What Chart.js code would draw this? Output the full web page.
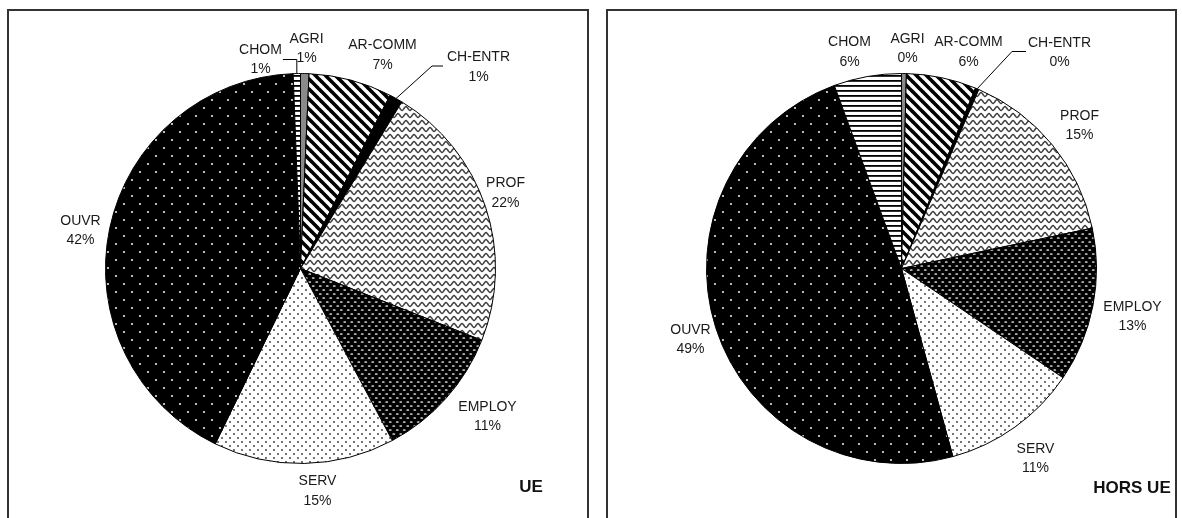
<!DOCTYPE html>
<html>
<head>
<meta charset="UTF-8">
<title>UE / HORS UE</title>
<script src="https://cdn.jsdelivr.net/npm/chart.js@4.4.1/dist/chart.umd.min.js"></script>
<style>
body{margin:0;background:#fff;width:1182px;height:518px;overflow:hidden;position:relative;font-family:"Liberation Sans",Arial,sans-serif;}
.frame{position:absolute;border:2px solid #333;border-bottom:none;box-sizing:border-box;}
#frameUE{left:7px;top:9px;width:582px;height:520px;}
#frameHors{left:606px;top:9px;width:571px;height:520px;}
canvas{position:absolute;top:0;}
#chartUE{left:0;}
#chartHors{left:591px;}
.title{position:absolute;font:bold 17px "Liberation Sans",Arial,sans-serif;line-height:20px;color:#111;text-align:center;}
</style>
</head>
<body>
<div class="frame" id="frameUE"></div>
<div class="frame" id="frameHors"></div>
<canvas id="chartUE" width="591" height="518"></canvas>
<canvas id="chartHors" width="591" height="518"></canvas>
<div class="title" id="titleUE" style="left:501px;top:477px;width:60px;"></div>
<div class="title" id="titleHors" style="left:1082px;top:478px;width:100px;"></div>
<script>
// categories, in clockwise order from 12 o'clock
const categories=['AGRI','AR-COMM','CH-ENTR','PROF','EMPLOY','SERV','OUVR','CHOM'];
// shares in % (labels are rounded)
const valuesUE=[0.7,6.9,1.1,22.3,11.2,15.0,42.2,0.6];
const valuesHorsUE=[0.4,5.8,0.3,15.2,12.8,11.3,48.7,5.6];
const titles=['UE','HORS UE'];

titleUE.textContent=titles[0];
titleHors.textContent=titles[1];

// black & white fill patterns, one per category
function tile(ctx,w,h,draw){
    const c=document.createElement('canvas');
    c.width=w;c.height=h;
    const g=c.getContext('2d');
    draw(g,w,h);
    return ctx.createPattern(c,'repeat');
}
function makeFills(ctx){
    const arcomm=tile(ctx,10,10,(g,w,h)=>{
        g.fillStyle='#fff';g.fillRect(0,0,w,h);
        g.strokeStyle='#000';g.lineWidth=3.6;
        for(const k of [-10,0,10]){
            g.beginPath();g.moveTo(k-2,-2);g.lineTo(k+12,12);g.stroke();
        }
    });
    const prof=tile(ctx,8,7,(g,w,h)=>{
        g.fillStyle='#fff';g.fillRect(0,0,w,h);
        g.strokeStyle='#444';g.lineWidth=1.5;
        g.beginPath();
        for(let x=-1;x<=9;x+=0.5){
            const y=3.5+1.9*Math.sin(2*Math.PI*x/8);
            if(x==-1)g.moveTo(x,y);else g.lineTo(x,y);
        }
        g.stroke();
    });
    const employ=tile(ctx,7,8,(g,w,h)=>{
        g.fillStyle='#000';g.fillRect(0,0,w,h);
        g.fillStyle='#e0e0e0';
        for(const [x,y] of [[1.75,2],[5.25,6],[-1.75,6],[8.75,6]]){
            g.beginPath();g.ellipse(x,y,1.5,0.85,0,0,2*Math.PI);g.fill();
        }
    });
    const serv=tile(ctx,8,8,(g,w,h)=>{
        g.fillStyle='#fff';g.fillRect(0,0,w,h);
        g.fillStyle='#333';
        for(const [x,y] of [[2,2],[6,6]]){
            g.beginPath();g.arc(x,y,0.9,0,2*Math.PI);g.fill();
        }
    });
    const ouvr=tile(ctx,16,16,(g,w,h)=>{
        g.fillStyle='#000';g.fillRect(0,0,w,h);
        g.fillStyle='#e6e6e6';
        for(const [x,y] of [[4,4],[12,12]]){
            g.beginPath();g.arc(x,y,1.1,0,2*Math.PI);g.fill();
        }
    });
    const chom=tile(ctx,6,5,(g,w,h)=>{
        g.fillStyle='#fff';g.fillRect(0,0,w,h);
        g.fillStyle='#000';g.fillRect(0,0,w,1.8);
    });
    return ['#8a8a8a',arcomm,'#000',prof,employ,serv,ouvr,chom];
}

// name + percentage labels, with the leader lines Excel draws for the thin slices
const sliceLabels={
    id:'sliceLabels',
    afterDatasetsDraw(chart,args,opts){
        const ctx=chart.ctx;
        const meta=chart.getDatasetMeta(0);
        const data=chart.data.datasets[0].data;
        const total=data.reduce((a,b)=>a+b,0);
        ctx.save();
        ctx.font='14px "Liberation Sans", Arial, sans-serif';
        ctx.textAlign='center';
        ctx.textBaseline='alphabetic';
        meta.data.forEach((arc,i)=>{
            const [dx,dy]=opts.offsets[i];
            const cx=arc.x+dx,cy=arc.y+dy;
            const name=chart.data.labels[i];
            const pct=Math.round(data[i]/total*100)+'%';
            ctx.fillStyle='#1a1a1a';
            ctx.fillText(name,cx,cy-9.75+5);
            ctx.fillText(pct,cx,cy+9.75+5);
            const lead=opts.leaders[i];
            if(!lead)return;
            const w=Math.max(ctx.measureText(name).width,ctx.measureText(pct).width);
            const mid=(arc.startAngle+arc.endAngle)/2;
            const ex=arc.x+arc.outerRadius*Math.cos(mid);
            const ey=arc.y+arc.outerRadius*Math.sin(mid);
            let sx,sy,kx,ky;
            if(lead.side=='right'){
                sx=cx+w/2+1;sy=cy+1;kx=ex;ky=sy;
            }else{
                sx=cx-w/2-lead.gap;sy=cy;kx=sx-lead.len;ky=sy;
            }
            ctx.strokeStyle='#000';ctx.lineWidth=1;
            ctx.beginPath();ctx.moveTo(sx,sy);ctx.lineTo(kx,ky);ctx.lineTo(ex,ey);ctx.stroke();
        });
        ctx.restore();
    }
};

function makePie(canvas,values,padding,offsets,leaders){
    const ctx=canvas.getContext('2d');
    return new Chart(ctx,{
        type:'pie',
        data:{
            labels:categories,
            datasets:[{
                data:values,
                backgroundColor:makeFills(ctx),
                borderColor:'#000',
                borderWidth:1
            }]
        },
        options:{
            responsive:false,
            animation:false,
            devicePixelRatio:1,
            layout:{padding:padding},
            plugins:{
                legend:{display:false},
                tooltip:{enabled:false},
                sliceLabels:{offsets:offsets,leaders:leaders}
            }
        },
        plugins:[sliceLabels]
    });
}

makePie(chartUE,valuesUE,
    {left:105,top:73,right:95,bottom:54},
    [[6,-221],[82,-214.5],[178,-202.5],[205,-76.5],[187,147],[17,221.5],[-220,-39],[-40,-210]],
    [null,null,{side:'left',gap:4,len:11},null,null,null,null,{side:'right'}]
);
makePie(chartHors,valuesHorsUE,
    {left:115,top:73,right:85,bottom:54},
    [[6,-221],[67,-217.5],[158,-217],[178,-144],[231,47],[134,189],[-211,70],[-52,-217.5]],
    [null,null,{side:'left',gap:2,len:14},null,null,null,null,null]
);
</script>
</body>
</html>
